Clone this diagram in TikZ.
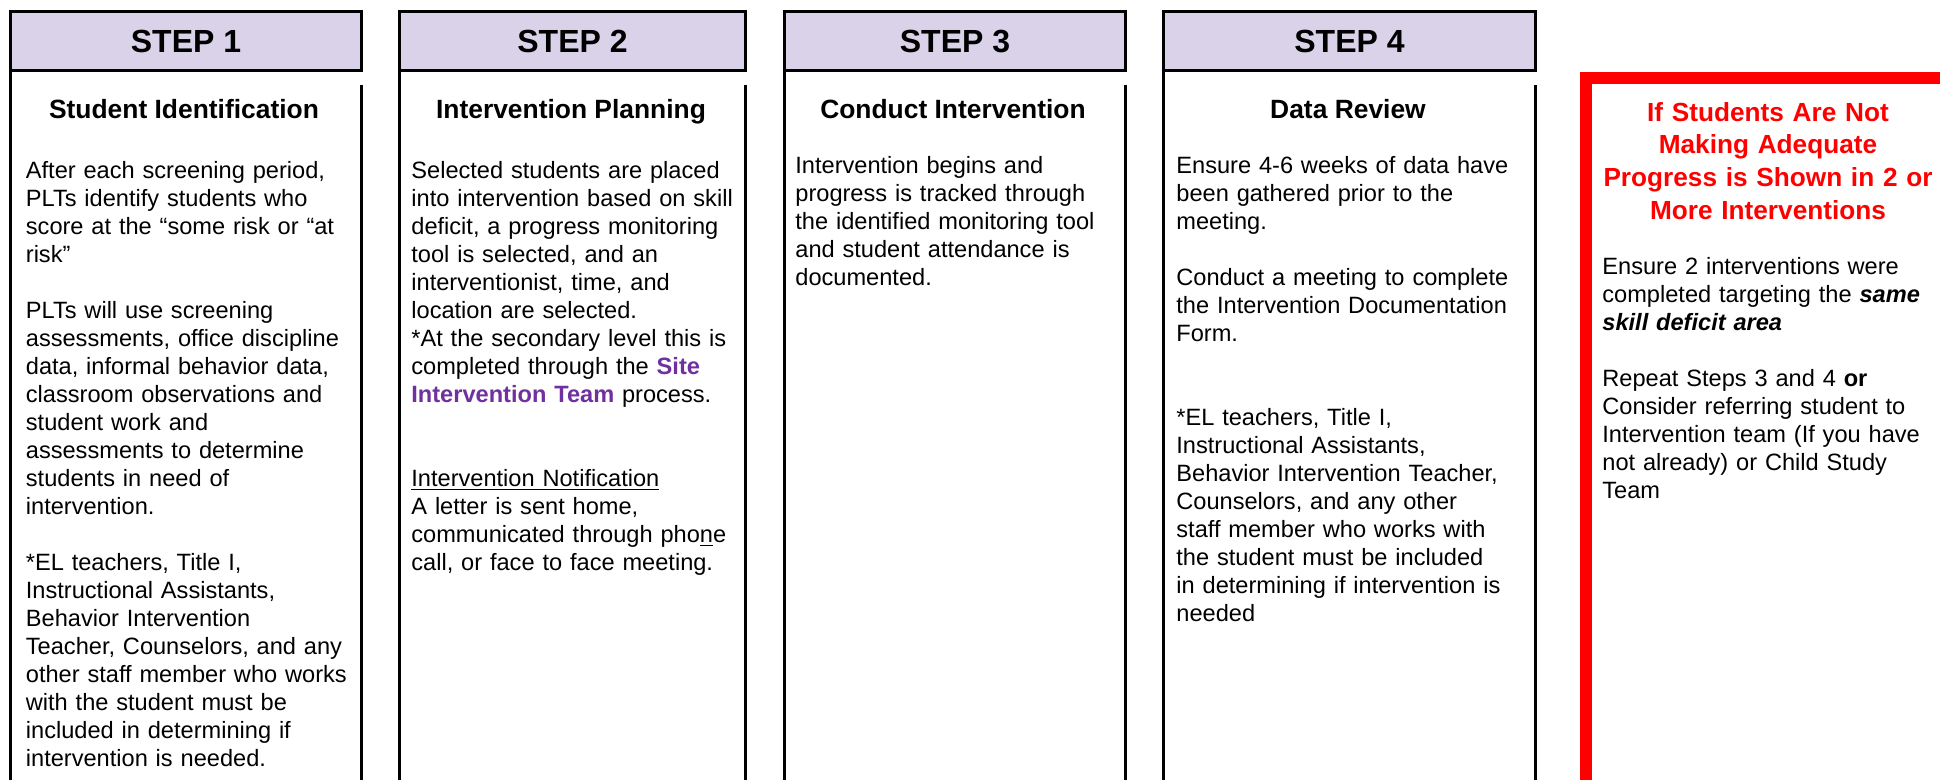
\documentclass[tikz,border=0pt]{standalone}
\usepackage{fontspec}
\setmainfont{Liberation Sans}
\setlength{\parindent}{0pt}
\definecolor{lav}{RGB}{217,210,233}
\definecolor{sitepurple}{RGB}{112,48,160}
\definecolor{alertred}{RGB}{255,0,0}
\tikzset{
  hdr/.style={draw=black, line width=1.5pt, fill=lav, inner sep=0pt, outer sep=0pt, minimum height=29.5pt, text height=11.5pt, text depth=0pt, font=\fontsize{16}{19}\selectfont\bfseries},
  colrule/.style={draw=black, line width=1.5pt},
  coltitle/.style={anchor=base, inner sep=0pt, font=\fontsize{13.2}{16}\selectfont\bfseries},
  bodytext/.style={anchor=north west, inner sep=0pt, align=left, text width=190pt, font=\fontsize{11.8}{14}\selectfont},
  alerthead/.style={anchor=north, inner sep=0pt, align=center, text width=180pt, text=alertred, font=\fontsize{13.1}{16.3}\selectfont\bfseries},
  alertbox/.style={draw=alertred, line width=6pt, inner sep=0pt, anchor=north west, minimum width=300pt, minimum height=400pt},
}
\begin{document}
\begin{tikzpicture}[x=0.5pt,y=-0.5pt]
\useasboundingbox (0,0) rectangle (1940,780);
\clip (0,0) rectangle (1940,780);
\fill[white] (0,0) rectangle (1940,780);

% headers
\node[hdr, minimum width=175.5pt] (h1) at (186,41) {STEP 1};
\node[hdr, minimum width=173pt] (h2) at (572.5,41) {STEP 2};
\node[hdr, minimum width=170.5pt] (h3) at (955,41) {STEP 3};
\node[hdr, minimum width=186pt] (h4) at (1349.5,41) {STEP 4};

% column rules
\foreach \h in {h1,h2,h3,h4}{
  \draw[colrule] (\h.south west) -- ++(0,740);
  \draw[colrule] ([yshift=-7.25pt]\h.south east) -- ++(0,740);
}

% column titles
\node[coltitle] (t1) at (184,119) {Student Identification};
\node[coltitle] (t2) at (571,119) {Intervention Planning};
\node[coltitle] (t3) at (953,119) {Conduct Intervention};
\node[coltitle] (t4) at (1348,119) {Data Review};

% step 1
\node[bodytext] (b1) at (25.5,158.4) {\strut After each screening period,\\
PLTs identify students who\\
score at the “some risk or “at\\
risk”\\
\mbox{}\\
PLTs will use screening\\
assessments, office discipline\\
data, informal behavior data,\\
classroom observations and\\
student work and\\
assessments to determine\\
students in need of\\
intervention.\\
\mbox{}\\
{*}EL teachers, Title I,\\
Instructional Assistants,\\
Behavior Intervention\\
Teacher, Counselors, and any\\
other staff member who works\\
with the student must be\\
included in determining if\\
intervention is needed.};

% step 2
\node[bodytext] (b2) at (411,158.4) {\strut Selected students are placed\\
into intervention based on skill\\
deficit, a progress monitoring\\
tool is selected, and an\\
interventionist, time, and\\
location are selected.\\
{*}At the secondary level this is\\
completed through the \textcolor{sitepurple}{\bfseries Site}\\
\textcolor{sitepurple}{\bfseries Intervention Team} process.\\
\mbox{}\\
\mbox{}\\
\underline{Intervention Notification}\\
A letter is sent home,\\
communicated through pho\underline{n}e\\
call, or face to face meeting.};

% step 3
\node[bodytext] (b3) at (795,153.4) {\strut Intervention begins and\\
progress is tracked through\\
the identified monitoring tool\\
and student attendance is\\
documented.};

% step 4
\node[bodytext] (b4) at (1176,153.4) {\strut Ensure 4-6 weeks of data have\\
been gathered prior to the\\
meeting.\\
\mbox{}\\
Conduct a meeting to complete\\
the Intervention Documentation\\
Form.\\
\mbox{}\\
\mbox{}\\
{*}EL teachers, Title I,\\
Instructional Assistants,\\
Behavior Intervention Teacher,\\
Counselors, and any other\\
staff member who works with\\
the student must be included\\
in determining if intervention is\\
needed};

% alert box
\node[alertbox] (alert) at (1580,72) {};
\node[alerthead] (ah) at (1768,98) {\strut If Students Are Not\\
Making Adequate\\
Progress is Shown in 2 or\\
More Interventions};
\node[bodytext] (ab) at (1602,255) {\strut Ensure 2 interventions were\\
completed targeting the \textbf{\textit{same}}\\
\textbf{\textit{skill deficit area}}\\
\mbox{}\\
Repeat Steps 3 and 4 \textbf{or}\\
Consider referring student to\\
Intervention team (If you have\\
not already) or Child Study\\
Team};
\end{tikzpicture}
\end{document}
